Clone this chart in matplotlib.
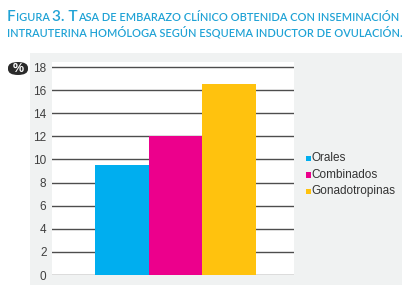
import matplotlib
matplotlib.use("Agg")
import matplotlib.pyplot as plt
from matplotlib.patches import Rectangle, FancyBboxPatch

categories = ["Orales", "Combinados", "Gonadotropinas"]
values = [9.5, 12.0, 16.5]
colors = ["#00aeef", "#ec008c", "#ffc20e"]
yticks = [0, 2, 4, 6, 8, 10, 12, 14, 16, 18]

W, H = 408, 288
fig = plt.figure(figsize=(W / 100, H / 100), dpi=100)
fig.patch.set_facecolor("white")

def fx(px):
    return px / W

def fy(py):
    return 1 - py / H

# gray panel
fig.patches.append(Rectangle((fx(29.5), fy(285)), fx(402) - fx(29.5), fy(52.7) - fy(285),
                             transform=fig.transFigure, facecolor="#f0f2f2",
                             edgecolor="none", zorder=0))

y0_px, y18_px = 275.0, 67.0
ppu = (y0_px - y18_px) / 18
ytop = 18.4
ax_top_px = y0_px - ytop * ppu
ax = fig.add_axes([fx(52), fy(y0_px), fx(294) - fx(52), (y0_px - ax_top_px) / H])
ax.set_facecolor("white")
ax.set_zorder(1)

x = list(range(len(categories)))
ax.bar(x, values, width=1.0, color=colors, zorder=3)
for t in yticks:
    ax.axhline(t, color="#4d4d4d", lw=1.0, zorder=2)

ppx = (256 - 95) / 3.0
ax.set_xlim(-0.5 - (95 - 52) / ppx, 2.5 + (294 - 256) / ppx)
ax.set_ylim(0, ytop)
ax.set_yticks(yticks)
ax.set_yticklabels([str(t) for t in yticks], fontsize=8.5, color="#404040",
                   family="Liberation Sans")
ax.tick_params(axis="y", length=0, pad=4)
ax.set_xticks([])
for s in ax.spines.values():
    s.set_visible(False)

# % badge
fig.patches.append(FancyBboxPatch((fx(8), fy(75)), fx(28) - fx(8), fy(62) - fy(75),
                                  boxstyle="round,pad=0,rounding_size=0.025",
                                  transform=fig.transFigure, facecolor="#2b2b2b",
                                  edgecolor="none", zorder=2, mutation_aspect=0.8))
fig.text(fx(18), fy(68.8), "%", color="white", fontsize=9, ha="center", va="center",
         family="Liberation Sans", fontweight="bold", zorder=3)

# legend
leg_y = [157.5, 174, 190.5]
for c, lab, yy in zip(colors, categories, leg_y):
    fig.patches.append(Rectangle((fx(305.5), fy(yy + 3.5)), 5.5 / W, 5.5 / H,
                                 transform=fig.transFigure, facecolor=c,
                                 edgecolor="none", zorder=3))
    fig.text(fx(311), fy(yy + 3.5), lab, fontsize=8.5, color="#333333",
             family="Liberation Sans", ha="left", va="baseline")

# title in small caps
title_color = "#1fa2d5"
fig.canvas.draw()
renderer = fig.canvas.get_renderer()

def smallcaps_line(x_px, base_px, pieces, big=11.1, small=7.95, gap=0.0):
    cur = x_px
    for txt, is_big in pieces:
        t = fig.text(fx(cur), fy(base_px), txt, fontsize=big if is_big else small,
                     color=title_color, family="Lato", fontweight="semibold",
                     ha="left", va="baseline")
        bb = t.get_window_extent(renderer=renderer)
        cur += bb.width + gap

line1 = [("F", True), ("IGURA ", False), ("3. T", True),
         ("ASA DE EMBARAZO CLÍNICO OBTENIDA CON INSEMINACIÓN", False)]
line2 = [("INTRAUTERINA HOMÓLOGA SEGÚN ESQUEMA INDUCTOR DE OVULACIÓN.", False)]
smallcaps_line(7, 21, line1)
smallcaps_line(7, 37, line2)

fig.savefig("out.png", dpi=100, facecolor=fig.get_facecolor())
